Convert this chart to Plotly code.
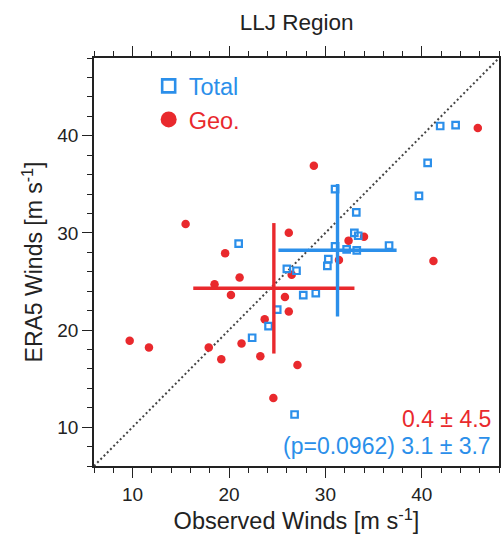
import numpy as np
import plotly.graph_objects as go

# ---------------- data ----------------
total_obs = [21.0, 41.9, 43.5, 40.6, 39.7, 31.0, 33.2, 33.0, 33.4, 36.6, 31.0, 32.2,
             33.25, 30.3, 30.2, 26.0, 27.0, 27.7, 29.0, 25.0, 24.1, 22.4, 26.8]
total_era = [28.9, 41.0, 41.1, 37.2, 33.8, 34.5, 32.1, 30.0, 29.7, 28.7, 28.6, 28.3,
             28.2, 27.3, 26.6, 26.3, 26.1, 23.6, 23.8, 22.1, 20.4, 19.2, 11.3]

geo_obs = [15.5, 26.2, 45.8, 28.8, 34.0, 32.4, 19.6, 21.1, 18.5, 20.2, 31.4, 26.5,
           25.8, 26.2, 23.7, 21.3, 9.7, 11.7, 17.9, 19.2, 23.25, 27.1, 24.6, 41.2]
geo_era = [30.9, 30.0, 40.8, 36.9, 29.6, 29.2, 27.9, 25.4, 24.7, 23.6, 27.2, 25.7,
           23.4, 21.9, 21.1, 18.6, 18.9, 18.2, 18.2, 17.0, 17.3, 16.4, 13.0, 27.1]

axis_range = [6, 48]
major_ticks = [10, 20, 30, 40]

geo_label = "0.4 \u00b1 4.5"
total_label = "(p=0.0962) 3.1 \u00b1 3.7"

BLUE = "#2B8FEA"
RED = "#E9292D"
FONT = "Liberation Sans, Arial, Helvetica, sans-serif"

fig = go.Figure()

# 1:1 line
fig.add_trace(go.Scatter(x=axis_range, y=axis_range, mode="lines",
                         line=dict(color="#444444", width=2, dash="2px,2.6px"),
                         showlegend=False, hoverinfo="skip"))

# Geo points
fig.add_trace(go.Scatter(x=geo_obs, y=geo_era, mode="markers",
                         marker=dict(symbol="circle", size=8.5, color=RED),
                         showlegend=False))

# Total points
fig.add_trace(go.Scatter(x=total_obs, y=total_era, mode="markers",
                         marker=dict(symbol="square-open", size=6.5, color=BLUE,
                                     line=dict(width=2.2, color=BLUE)),
                         showlegend=False))

# mean +/- std crosses
for xs, ys, col in [(geo_obs, geo_era, RED), (total_obs, total_era, BLUE)]:
    xa, ya = np.array(xs), np.array(ys)
    fig.add_trace(go.Scatter(
        x=[xa.mean()], y=[ya.mean()], mode="markers",
        marker=dict(size=0.1, color=col, opacity=0),
        error_x=dict(type="data", array=[xa.std(ddof=1)], color=col, thickness=3.4, width=0),
        error_y=dict(type="data", array=[ya.std(ddof=1)], color=col, thickness=3.4, width=0),
        showlegend=False, hoverinfo="skip"))

# legend entries
fig.add_trace(go.Scatter(x=[None], y=[None], mode="markers",
                         name="<span style='color:%s'>Total</span>" % BLUE,
                         marker=dict(symbol="square-open", size=13, color=BLUE,
                                     line=dict(width=2.6, color=BLUE))))
fig.add_trace(go.Scatter(x=[None], y=[None], mode="markers",
                         name="<span style='color:%s'>Geo.</span>" % RED,
                         marker=dict(symbol="circle", size=16, color=RED)))

axis_common = dict(
    range=axis_range, tickvals=major_ticks, ticks="outside", ticklen=10, tickwidth=1.3,
    tickcolor="#222222", showline=True, linecolor="#222222", linewidth=1.5,
    mirror="allticks", showgrid=False, zeroline=False, automargin=False,
    tickfont=dict(family=FONT, size=19, color="#222222"),
    minor=dict(dtick=2, tick0=0, ticks="outside", ticklen=5, tickwidth=1.1,
               tickcolor="#222222", showgrid=False),
)

fig.update_layout(
    width=501, height=544, autosize=False,
    margin=dict(l=94, r=2, t=58, b=78),
    paper_bgcolor="white", plot_bgcolor="white",
    font=dict(family=FONT, color="#222222"),
    title=dict(text="LLJ Region", x=0.592, xanchor="center", y=1 - 21.7 / 544,
               yanchor="middle", font=dict(family=FONT, size=22.5, color="#222222")),
    xaxis=dict(axis_common, title=dict(text="Observed Winds [m s<sup>-1</sup>]",
                                       font=dict(family=FONT, size=23.5, color="#222222"),
                                       standoff=8)),
    yaxis=dict(axis_common, title=dict(text="ERA5 Winds [m s<sup>-1</sup>]",
                                       font=dict(family=FONT, size=23, color="#222222"),
                                       standoff=8)),
    legend=dict(x=0.135, y=0.985, xanchor="left", yanchor="top",
                bgcolor="rgba(0,0,0,0)", borderwidth=0,
                font=dict(family=FONT, size=23.5), itemsizing="trace"),
    annotations=[
        dict(text=geo_label, x=0.985, y=0.115, xref="paper", yref="paper",
             xanchor="right", yanchor="middle", showarrow=False,
             font=dict(family=FONT, size=23, color=RED)),
        dict(text=total_label, x=0.985, y=0.05, xref="paper", yref="paper",
             xanchor="right", yanchor="middle", showarrow=False,
             font=dict(family=FONT, size=23, color=BLUE)),
    ],
)

fig.write_html("out.html",
               config={"displayModeBar": False},
               post_script="document.body.style.margin='0px';"
                           "document.body.style.overflow='hidden';")
